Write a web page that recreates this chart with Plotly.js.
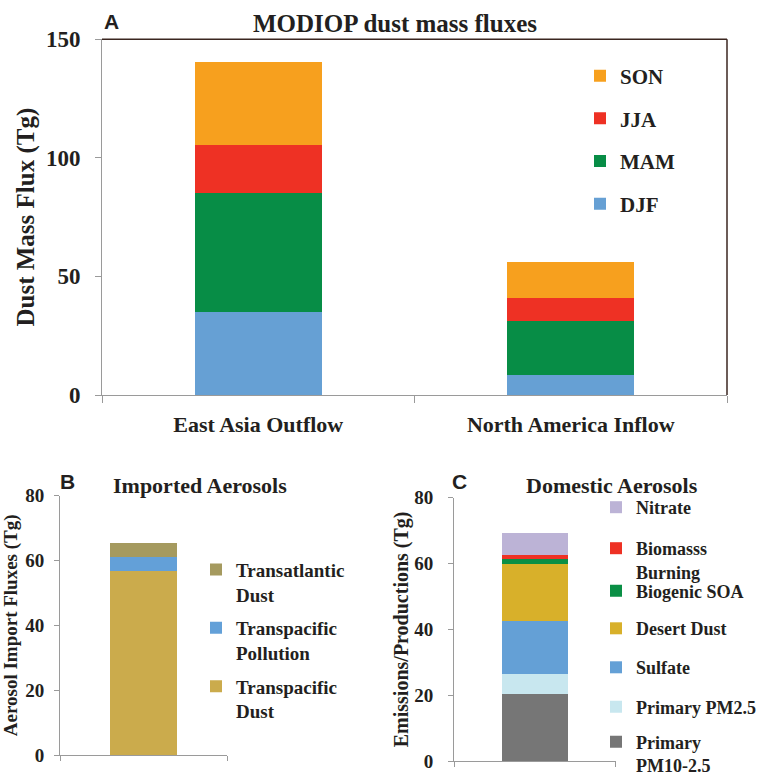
<!DOCTYPE html>
<html>
<head>
<meta charset="utf-8">
<script src="https://cdn.plot.ly/plotly-3.0.1.min.js"></script>
<style>
  html, body { margin: 0; padding: 0; background: #ffffff; }
  #chart { width: 768px; height: 777px; }
</style>
</head>
<body>
<div id="chart"></div>
<script>
// ---------------- DATA ----------------
// Panel A: MODIOP dust mass fluxes (Tg)
const categoriesA = ['East Asia Outflow', 'North America Inflow'];
const seasonNames = ['DJF', 'MAM', 'JJA', 'SON'];
const djfValues = [35.0, 8.6];
const mamValues = [50.1, 22.7];
const jjaValues = [20.2, 9.6];
const sonValues = [35.2, 15.0];
const seasonColors = ['#66a0d4', '#078d46', '#ee3124', '#f7a01e'];

// Panel B: Imported aerosols (Tg)
const categoryB = ['Imported'];
const importedNames = ['Transpacific Dust', 'Transpacific Pollution', 'Transatlantic Dust'];
const importedLabels = ['Transpacific<br>Dust', 'Transpacific<br>Pollution', 'Transatlantic<br>Dust'];
const importedValues = [56.8, 4.3, 4.2];
const importedColors = ['#cbab4c', '#63a0d8', '#a59a5f'];

// Panel C: Domestic aerosols (Tg)
const categoryC = ['Domestic'];
const domesticNames = ['Primary PM10-2.5', 'Primary PM2.5', 'Sulfate', 'Desert Dust', 'Biogenic SOA', 'Biomasss Burning', 'Nitrate'];
const domesticLabels = ['Primary<br>PM10-2.5', 'Primary PM2.5', 'Sulfate', 'Desert Dust', 'Biogenic SOA', 'Biomasss<br>Burning', 'Nitrate'];
const domesticValues = [20.4, 5.9, 16.2, 17.3, 1.7, 1.0, 6.9];
const domesticColors = ['#767676', '#c8e7ef', '#64a0d6', '#d8b02a', '#0a8f45', '#ee3124', '#bcb3d6'];

const ticksA = [0, 50, 100, 150];
const ticksBC = [0, 20, 40, 60, 80];

// ---------------- STYLE ----------------
const W = 768, H = 777;
const px = x => x / W;
const py = y => 1 - y / H;
const SERIF = 'Liberation Serif, Times New Roman, serif';
const SANS = 'Liberation Sans, Arial, sans-serif';
const INK = '#231f20';
const AXIS = '#9a9a9a';
const font = (size, fam) => ({ family: fam || SERIF, size: size, color: INK, weight: 'bold' });

const traces = [];
const seasonValues = [djfValues, mamValues, jjaValues, sonValues];
seasonNames.forEach((name, i) => {
  traces.push({
    type: 'bar', x: categoriesA, y: seasonValues[i], name: name,
    marker: { color: seasonColors[i], line: { width: 0 } },
    xaxis: 'x', yaxis: 'y', legend: 'legend', legendgroup: 'A' + i,
    legendrank: 100 + (seasonNames.length - i),
    hoverinfo: 'skip'
  });
});
importedNames.forEach((name, i) => {
  traces.push({
    type: 'bar', x: categoryB, y: [importedValues[i]], name: importedLabels[i],
    marker: { color: importedColors[i], line: { width: 0 } },
    xaxis: 'x2', yaxis: 'y2', legend: 'legend2', legendgroup: 'B' + i,
    legendrank: 100 + (importedNames.length - i),
    hoverinfo: 'skip'
  });
});
// each domestic item has its own legend box so that item spacing can follow the original
const legendC = {};
const legendCx = 596;
const legendCy = [507.5, 560, 591, 628.6, 667.6, 707, 753.5];
domesticNames.forEach((name, i) => {
  const key = 'legend' + (3 + (domesticNames.length - 1 - i));
  traces.push({
    type: 'bar', x: categoryC, y: [domesticValues[i]], name: domesticLabels[i],
    marker: { color: domesticColors[i], line: { width: 0 } },
    xaxis: 'x3', yaxis: 'y3', legend: key,
    hoverinfo: 'skip'
  });
});
for (let k = 0; k < domesticNames.length; k++) {
  legendC['legend' + (3 + k)] = {
    x: px(legendCx), xanchor: 'left',
    y: py(legendCy[k]), yanchor: 'middle',
    font: font(18), valign: 'top', bgcolor: 'rgba(0,0,0,0)', borderwidth: 0
  };
}

const yAxisCommon = {
  ticks: 'outside', tickcolor: AXIS, tickwidth: 1,
  showline: true, linecolor: AXIS, linewidth: 1,
  showgrid: false, zeroline: false, fixedrange: true
};
const xAxisCommon = {
  type: 'category', tickson: 'boundaries', ticks: 'outside', tickcolor: AXIS, tickwidth: 1,
  showline: true, linecolor: AXIS, linewidth: 1, showgrid: false, zeroline: false, fixedrange: true
};

const layout = Object.assign({
  width: W, height: H,
  margin: { l: 0, r: 0, t: 0, b: 0, autoexpand: false },
  paper_bgcolor: '#ffffff', plot_bgcolor: 'rgba(0,0,0,0)',
  barmode: 'stack',
  bargap: 0.595,
  title: {
    text: 'MODIOP dust mass fluxes', font: font(25),
    x: px(395), xref: 'paper', xanchor: 'center',
    y: py(23), yref: 'paper', yanchor: 'middle'
  },
  xaxis: Object.assign({}, xAxisCommon, {
    domain: [px(102), px(727)], anchor: 'y', range: [-0.5, 1.5], ticklen: 7,
    tickfont: font(22), ticklabelstandoff: 10
  }),
  yaxis: Object.assign({}, yAxisCommon, {
    domain: [py(395), py(39.3)], anchor: 'x', range: [0, 150], tickvals: ticksA, ticklen: 6,
    tickfont: font(23), ticklabelstandoff: 10,
    title: { text: 'Dust Mass Flux (Tg)', font: font(25), standoff: 4 }
  }),
  xaxis2: Object.assign({}, xAxisCommon, {
    domain: [px(60), px(227)], anchor: 'y2', range: [-0.5, 0.5], ticklen: 5, showticklabels: false
  }),
  yaxis2: Object.assign({}, yAxisCommon, {
    domain: [py(755), py(495.7)], anchor: 'x2', range: [0, 80], tickvals: ticksBC, ticklen: 5,
    tickfont: font(19), ticklabelstandoff: 6,
    title: { text: 'Aerosol Import Fluxes (Tg)', font: font(19), standoff: 4 }
  }),
  xaxis3: Object.assign({}, xAxisCommon, {
    domain: [px(454), px(615.7)], anchor: 'y3', range: [-0.5, 0.5], ticklen: 5, showticklabels: false
  }),
  yaxis3: Object.assign({}, yAxisCommon, {
    domain: [py(761), py(497.7)], anchor: 'x3', range: [0, 80], tickvals: ticksBC, ticklen: 5,
    tickfont: font(19), ticklabelstandoff: 11,
    title: { text: 'Emissions/Productions (Tg)', font: font(20), standoff: 0 }
  }),
  legend: {
    x: px(580), xanchor: 'left', y: py(55.5), yanchor: 'top',
    traceorder: 'grouped', tracegroupgap: 12.4,
    font: font(21), bgcolor: 'rgba(0,0,0,0)', borderwidth: 0
  },
  legend2: {
    x: px(196), xanchor: 'left', y: py(550.6), yanchor: 'top',
    traceorder: 'grouped', tracegroupgap: 6, valign: 'top',
    font: font(19), bgcolor: 'rgba(0,0,0,0)', borderwidth: 0
  },
  shapes: [
    { type: 'line', xref: 'x domain', yref: 'y domain', x0: 0, x1: 1, y0: 1, y1: 1,
      line: { color: '#3b2620', width: 1.5 } },
    { type: 'line', xref: 'x domain', yref: 'y domain', x0: 1, x1: 1, y0: 0, y1: 1,
      line: { color: '#3b2620', width: 1.5 } }
  ],
  annotations: [
    { text: 'A', xref: 'paper', yref: 'paper', x: px(111.5), y: py(21.5), xanchor: 'center', yanchor: 'middle',
      showarrow: false, font: font(21, SANS) },
    { text: 'B', xref: 'paper', yref: 'paper', x: px(67.5), y: py(481), xanchor: 'center', yanchor: 'middle',
      showarrow: false, font: font(21, SANS) },
    { text: 'C', xref: 'paper', yref: 'paper', x: px(459.5), y: py(481), xanchor: 'center', yanchor: 'middle',
      showarrow: false, font: font(21, SANS) },
    { text: 'Imported Aerosols', xref: 'paper', yref: 'paper', x: px(199.5), y: py(485), xanchor: 'center', yanchor: 'middle',
      showarrow: false, font: font(22) },
    { text: 'Domestic Aerosols', xref: 'paper', yref: 'paper', x: px(612), y: py(485), xanchor: 'center', yanchor: 'middle',
      showarrow: false, font: font(22) }
  ]
}, legendC);

Plotly.newPlot('chart', traces, layout, { staticPlot: true, displayModeBar: false });
</script>
</body>
</html>
